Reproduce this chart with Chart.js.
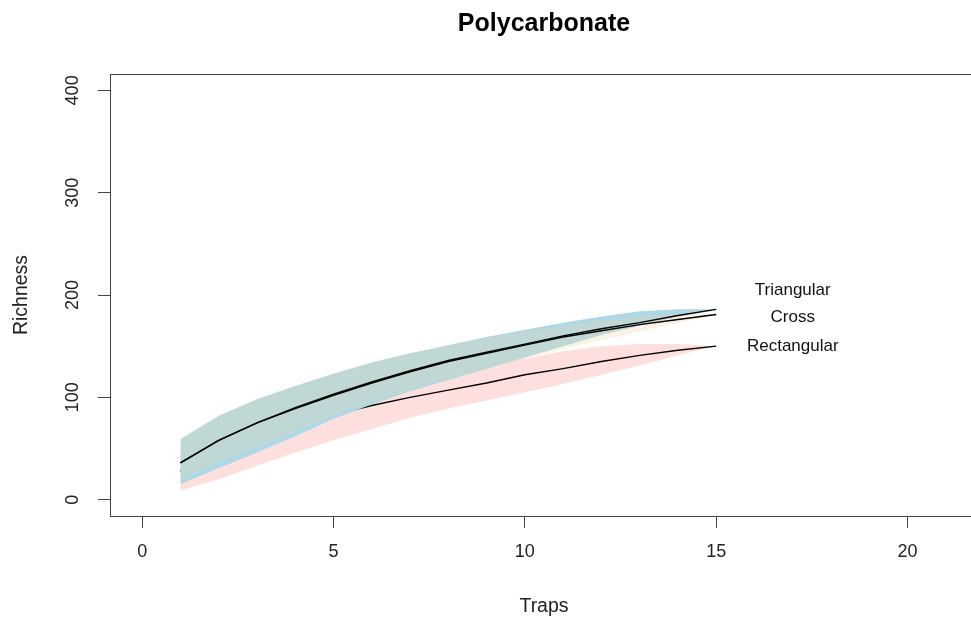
<!DOCTYPE html>
<html>
<head>
<meta charset="utf-8">
<title>Polycarbonate</title>
<script src="https://cdn.jsdelivr.net/npm/chart.js@4.4.1/dist/chart.umd.min.js"></script>
<style>
  html, body { margin: 0; padding: 0; background: #fff; overflow: hidden; }
  #wrap { width: 971px; height: 620px; overflow: hidden; }
</style>
</head>
<body>
<div id="wrap">
  <canvas id="richnessChart" width="1088" height="620"></canvas>
</div>
<script>
// sampling effort (number of traps)
const traps = [1, 2, 3, 4, 5, 6, 7, 8, 9, 10, 11, 12, 13, 14, 15];

// species accumulation, mean and confidence band for each trap type
const triangularMean = [36, 58, 75, 90, 103, 115, 126, 136, 144, 152, 160, 167, 173, 180, 186];
const triangularLower = [15, 31, 46, 62, 79, 93, 106, 117, 128, 139, 150, 161, 170, 179, 186];
const triangularUpper = [59, 82, 98, 111, 123, 134, 143, 151, 159, 166, 173, 179, 184, 186, 186];

const crossMean = [36, 58, 75, 89, 102, 114, 125, 135, 143, 151, 159, 165, 171, 176, 181];
const crossLower = [19, 36, 51, 66, 82, 95, 107, 118, 128, 138, 147, 156, 164, 173, 181];
const crossUpper = [59, 82, 98, 111, 123, 134, 143, 151, 158, 165, 170, 175, 179, 182, 181];

const rectangularMean = [28, 46, 61, 73, 83, 92, 100, 107, 114, 122, 128, 135, 141, 146, 150];
const rectangularLower = [9, 20, 33, 46, 58, 69, 80, 89, 97, 105, 113, 122, 131, 141, 150];
const rectangularUpper = [45, 63, 78, 90, 100, 109, 117, 124, 131, 138, 145, 150, 152, 152, 150];

// axis ticks
const xTicks = [0, 5, 10, 15, 20];
const yTicks = [0, 100, 200, 300, 400];

// curve names written next to the curves (data units)
const curveNames = ["Triangular", "Cross", "Rectangular"];
const nameX = [17, 17, 17];
const nameY = [205, 178, 150];

const FONT = "'Liberation Sans', Arial, Helvetica, sans-serif";
const toPoints = (ys) => traps.map((t, i) => ({ x: t, y: ys[i] }));

function bandEdge(label, ys, fill, color, order) {
  return {
    label: label,
    data: toPoints(ys),
    borderWidth: 0,
    pointRadius: 0,
    backgroundColor: color,
    fill: fill,
    order: order,
  };
}

function meanLine(label, ys, order) {
  return {
    label: label,
    data: toPoints(ys),
    borderColor: "#000",
    borderWidth: 1.4,
    pointRadius: 0,
    fill: false,
    order: order,
  };
}

// higher order is drawn first
const datasets = [
  meanLine("Triangular", triangularMean, 0),
  meanLine("Cross", crossMean, 1),
  bandEdge("Cross upper", crossUpper, "+1", "rgba(240, 215, 170, 0.3)", 2),
  bandEdge("Cross lower", crossLower, false, "transparent", 3),
  bandEdge("Triangular upper", triangularUpper, "+1", "rgb(172, 216, 232)", 4),
  bandEdge("Triangular lower", triangularLower, false, "transparent", 5),
  meanLine("Rectangular", rectangularMean, 6),
  bandEdge("Rectangular upper", rectangularUpper, "+1", "rgb(253, 224, 221)", 7),
  bandEdge("Rectangular lower", rectangularLower, false, "transparent", 8),
];

const plotBox = {
  id: "plotBox",
  beforeDatasetsDraw(chart) {
    const { ctx, chartArea: a } = chart;
    ctx.save();
    ctx.strokeStyle = "#444";
    ctx.lineWidth = 1;
    ctx.strokeRect(Math.round(a.left) + 0.5, Math.round(a.top) + 0.5,
      Math.round(a.right - a.left), Math.round(a.bottom - a.top));
    ctx.restore();
  },
};

const curveLabels = {
  id: "curveLabels",
  afterDatasetsDraw(chart) {
    const { ctx, scales } = chart;
    ctx.save();
    ctx.font = "17px " + FONT;
    ctx.fillStyle = "#111";
    ctx.textAlign = "center";
    ctx.textBaseline = "middle";
    curveNames.forEach((name, i) => {
      ctx.fillText(name, scales.x.getPixelForValue(nameX[i]), scales.y.getPixelForValue(nameY[i]));
    });
    ctx.restore();
  },
};

const ctx = document.getElementById("richnessChart").getContext("2d");
const richnessChart = new Chart(ctx, {
  type: "line",
  data: { datasets: datasets },
  plugins: [plotBox, curveLabels],
  options: {
    responsive: false,
    animation: false,
    devicePixelRatio: 1,
    layout: { padding: 0 },
    plugins: {
      legend: { display: false },
      tooltip: { enabled: false },
      title: {
        display: true,
        text: "Polycarbonate",
        color: "#000",
        font: { family: FONT, size: 25, weight: "bold" },
        padding: { top: 9, bottom: 35 },
      },
      filler: { propagate: false },
    },
    scales: {
      x: {
        type: "linear",
        min: -0.84,
        max: 21.84,
        afterBuildTicks: (scale) => {
          scale.ticks = xTicks.map((v) => ({ value: v }));
        },
        afterFit: (scale) => {
          scale.height = 104;
        },
        grid: {
          drawOnChartArea: false,
          drawTicks: true,
          tickLength: 12,
          tickColor: "#444",
        },
        border: { display: true, color: "#444", width: 1 },
        ticks: {
          color: "#222",
          font: { family: FONT, size: 18 },
          padding: 13,
          maxRotation: 0,
          autoSkip: false,
        },
        title: {
          display: true,
          text: "Traps",
          color: "#222",
          font: { family: FONT, size: 19.5 },
          padding: { top: 0, bottom: 2 },
        },
      },
      y: {
        type: "linear",
        min: -16,
        max: 416,
        afterBuildTicks: (scale) => {
          scale.ticks = yTicks.map((v) => ({ value: v }));
        },
        afterFit: (scale) => {
          scale.width = 110;
        },
        grid: {
          drawOnChartArea: false,
          drawTicks: true,
          tickLength: 12,
          tickColor: "#444",
        },
        border: { display: true, color: "#444", width: 1 },
        ticks: {
          color: "#222",
          font: { family: FONT, size: 18 },
          padding: 10,
          minRotation: 90,
          maxRotation: 90,
          crossAlign: "center",
          autoSkip: false,
        },
        title: {
          display: true,
          text: "Richness",
          color: "#222",
          font: { family: FONT, size: 19.5 },
          padding: { top: 10, bottom: 0 },
        },
      },
      // empty right margin of the plot region (the figure is cropped there)
      rightMargin: {
        type: "linear",
        position: "right",
        display: true,
        afterFit: (scale) => {
          scale.width = 110;
        },
        grid: { display: false },
        border: { display: false },
        ticks: { display: false },
      },
    },
  },
});
</script>
</body>
</html>
